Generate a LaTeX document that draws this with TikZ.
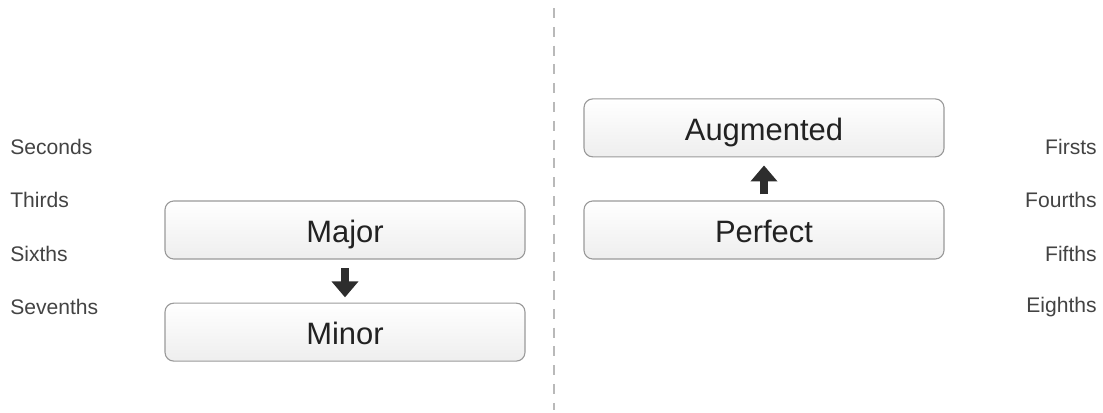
\documentclass[tikz,border=0pt]{standalone}
\usepackage{fontspec}
\setmainfont{Liberation Sans}
\usetikzlibrary{arrows.meta, positioning}
\definecolor{boxline}{HTML}{9A9A9A}
\definecolor{boxfill}{HTML}{EEEEEE}
\definecolor{ink}{HTML}{222222}
\tikzstyle{quality} = [rectangle, rounded corners=0.22cm, minimum width=9cm, minimum height=1.45cm, text height=0.64cm, text depth=0cm, text centered, draw=boxline, line width=0.8pt, top color=white, bottom color=boxfill, text=ink, font=\fontsize{22}{26}\selectfont]
\tikzstyle{kind} = [text=ink!85, font=\fontsize{15}{18}\selectfont, inner sep=0pt]
\tikzstyle{arrow} = [draw=ink!95, line width=5.5pt, -{Triangle[length=0.4cm, width=0.65cm]}]
\tikzstyle{divider} = [draw=gray!55, line width=1.3pt, dash pattern=on 0.25cm off 0.22cm]

\begin{document}
\begin{tikzpicture}

\useasboundingbox (0,0) rectangle (27.575,-10.3);

\node (major) [quality] at (8.625,-5.75) {Major};
\node (minor) [quality, below=1.075cm of major] {Minor};

\node (perfect) [quality] at (19.1,-5.75) {Perfect};
\node (augmented) [quality, above=1.075cm of perfect] {Augmented};

\draw [arrow, shorten <=0.22cm, shorten >=0.13cm] (major) -- (minor);
\draw [arrow, shorten <=0.15cm, shorten >=0.2cm] (perfect) -- (augmented);

\coordinate (top) at (13.85,-0.2);
\coordinate (bottom) at (13.85,-10.25);
\draw [divider] (top) -- (bottom);

% left column
\node (seconds) [kind, anchor=west] at (0.25,-3.675) {Seconds};
\node (thirds) [kind, anchor=west] at (0.25,-5.0) {Thirds};
\node (sixths) [kind, anchor=west] at (0.25,-6.35) {Sixths};
\node (sevenths) [kind, anchor=west] at (0.25,-7.675) {Sevenths};

% right column
\node (firsts) [kind, anchor=east] at (27.425,-3.675) {Firsts};
\node (fourths) [kind, anchor=east] at (27.425,-5.0) {Fourths};
\node (fifths) [kind, anchor=east] at (27.425,-6.35) {Fifths};
\node (eighths) [kind, anchor=east] at (27.425,-7.675) {Eighths};

\end{tikzpicture}
\end{document}
